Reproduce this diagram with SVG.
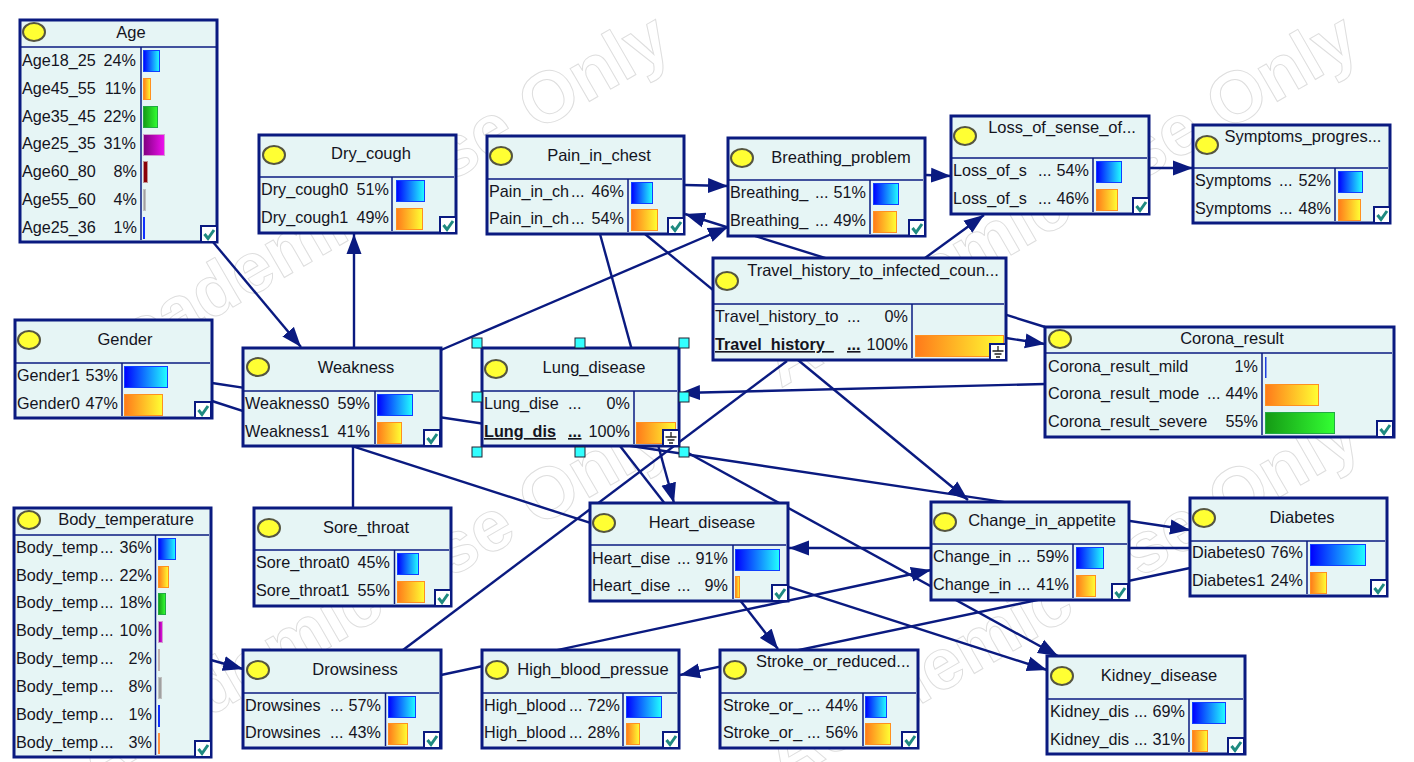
<svg xmlns="http://www.w3.org/2000/svg" xmlns:xlink="http://www.w3.org/1999/xlink" width="1414" height="762" viewBox="0 0 1414 762">
<style>
text{font-family:"Liberation Sans",Arial,sans-serif;font-size:16.2px;fill:#14141e}
.t{text-anchor:middle;font-size:16.5px}.p{text-anchor:end}
.u{font-weight:bold;text-decoration:underline}
.wm{font-size:72px;font-weight:bold;fill:none;stroke:#dedede;stroke-width:1}
.box{fill:#e6f5f5;stroke:#0a1a80;stroke-width:3}
.in{stroke:#0a1a80;stroke-width:1.5}
.dot{fill:#ffff33;stroke:#555540;stroke-width:2}
.c{fill:none;stroke:#0a1a80;stroke-width:2.4}
.a{marker-end:url(#arr)}
.h{fill:#33ffff;stroke:#223;stroke-width:1}
.b{fill:url(#gb);stroke:#1040ff}.o{fill:url(#go);stroke:#ff9020}.g{fill:url(#gg);stroke:#22aa44}.v{fill:url(#gv);stroke:#d0a0d0}.m{fill:#8a0008;stroke:#c09090}.k{fill:#a0a0a0;stroke:#c0c0c0}.d{fill:#401818;stroke:#c0b0b0}
</style>
<defs>
<linearGradient id="gb"><stop offset="0" stop-color="#0000ff"/><stop offset="1" stop-color="#22ffff"/></linearGradient>
<linearGradient id="go"><stop offset="0" stop-color="#ff7a1a"/><stop offset="1" stop-color="#ffff33"/></linearGradient>
<linearGradient id="gg"><stop offset="0" stop-color="#159a15"/><stop offset="1" stop-color="#33ff33"/></linearGradient>
<linearGradient id="gv"><stop offset="0" stop-color="#800080"/><stop offset="1" stop-color="#f010f0"/></linearGradient>
<marker id="arr" markerUnits="userSpaceOnUse" markerWidth="21" markerHeight="16" refX="20" refY="8" orient="auto"><path d="M0,0.5 L20,8 L0,15.5 Z" fill="#0a1a80"/></marker>
<g id="chk"><rect x="0" y="0" width="16" height="16" fill="#fff" stroke="#0a1a80" stroke-width="2"/><path d="M3.5,8 L7,12.5 L13,4" fill="none" stroke="#1f8a80" stroke-width="3"/></g>
<g id="gnd"><rect x="0" y="0" width="16" height="16" fill="#fff" stroke="#0a1a80" stroke-width="2"/><path d="M8,2 V7 M2.5,7 H13.5 M4.5,10 H11.5 M6,13 H10" fill="none" stroke="#222" stroke-width="1.3"/></g>
</defs>
<rect x="0" y="0" width="1414" height="762" fill="#fff"/>
<g id="watermark">
<text class="wm p" transform="translate(675,52) rotate(-30)">Academic Use Only</text>
<text class="wm p" transform="translate(1363,52) rotate(-30)">Academic Use Only</text>
<text class="wm p" transform="translate(675,448) rotate(-30)">Academic Use Only</text>
<text class="wm p" transform="translate(1365,448) rotate(-30)">Academic Use Only</text>
</g>
<g id="connectors">
<path class="c a" d="M213,242 L301,347"/>
<path class="c a" d="M354,348 L354,234"/>
<path class="c a" d="M441,350 L728,227"/>
<path class="c a" d="M685,185 L728,186"/>
<path class="c a" d="M926,175 L951,176"/>
<path class="c a" d="M1149,168 L1193,168"/>
<path class="c a" d="M925,258 L984,215"/>
<path class="c a" d="M1045,327 L685,214"/>
<path class="c a" d="M645,234 L968,500"/>
<path class="c a" d="M1006,338 L1045,344"/>
<path class="c a" d="M1045,384 L680,393"/>
<path class="c a" d="M600,234 L674,503"/>
<path class="c a" d="M620,446 L778,649"/>
<path class="c a" d="M212,383 L1190,530"/>
<path class="c a" d="M212,401 L1047,670"/>
<path class="c" d="M353,446 L353,508"/>
<path class="c a" d="M1190,548 L789,548"/>
<path class="c a" d="M1190,568 L680,675"/>
<path class="c a" d="M441,675 L931,570"/>
<path class="c" d="M403,650 L787,361"/>
<path class="c a" d="M679,448 L1058,656"/>
<path class="c a" d="M211,660 L243,669"/>
</g>
<g id="age"><rect class="box" x="20" y="20" width="197" height="222"/><line class="in" x1="20" y1="47" x2="217" y2="47"/><line class="in" x1="141" y1="47" x2="141" y2="240"/><ellipse class="dot" cx="34" cy="32" rx="11" ry="9"/><text class="t" x="131" y="38">Age</text>
<text x="22" y="66">Age18_25</text><text class="p" x="136" y="66">24%</text><rect class="b" x="143.5" y="50.5" width="16" height="21"/>
<text x="22" y="94">Age45_55</text><text class="p" x="136" y="94">11%</text><rect class="o" x="143.5" y="78.5" width="7" height="21"/>
<text x="22" y="122">Age35_45</text><text class="p" x="136" y="122">22%</text><rect class="g" x="143.5" y="106.5" width="14" height="21"/>
<text x="22" y="149">Age25_35</text><text class="p" x="136" y="149">31%</text><rect class="v" x="143.5" y="134.5" width="21" height="21"/>
<text x="22" y="177">Age60_80</text><text class="p" x="137" y="177">8%</text><rect class="m" x="143.5" y="161.5" width="4" height="21"/>
<text x="22" y="205">Age55_60</text><text class="p" x="137" y="205">4%</text><rect class="k" x="143.5" y="189.5" width="2" height="21"/>
<text x="22" y="233">Age25_36</text><text class="p" x="137" y="233">1%</text><rect x="143" y="217" width="2" height="22" fill="#1030ff"/>
<use href="#chk" x="201" y="226"/></g>
<g id="dry_cough"><rect class="box" x="259" y="135" width="197" height="98"/><line class="in" x1="259" y1="177" x2="454" y2="177"/><line class="in" x1="392" y1="177" x2="392" y2="231"/><ellipse class="dot" cx="274" cy="155" rx="11" ry="9"/><text class="t" x="371" y="159">Dry_cough</text>
<text x="261" y="195">Dry_cough0</text><text class="p" x="389" y="195">51%</text><rect class="b" x="396.5" y="180.5" width="28" height="21"/>
<text x="261" y="223">Dry_cough1</text><text class="p" x="389" y="223">49%</text><rect class="o" x="396.5" y="208.5" width="26" height="21"/>
<use href="#chk" x="440" y="217"/></g>
<g id="pain_in_chest"><rect class="box" x="487" y="136" width="197" height="98"/><line class="in" x1="487" y1="179" x2="682" y2="179"/><line class="in" x1="628" y1="179" x2="628" y2="232"/><ellipse class="dot" cx="501" cy="156" rx="11" ry="9"/><text class="t" x="599" y="161">Pain_in_chest</text>
<text x="489" y="197">Pain_in_ch</text><text x="571" y="197">...</text><text class="p" x="624" y="197">46%</text><rect class="b" x="631.5" y="182.5" width="21" height="21"/>
<text x="489" y="224">Pain_in_ch</text><text x="571" y="224">...</text><text class="p" x="624" y="224">54%</text><rect class="o" x="631.5" y="209.5" width="26" height="21"/>
<use href="#chk" x="668" y="218"/></g>
<g id="breathing_problem"><rect class="box" x="728" y="138" width="197" height="98"/><line class="in" x1="728" y1="180" x2="923" y2="180"/><line class="in" x1="870" y1="180" x2="870" y2="234"/><ellipse class="dot" cx="742" cy="158" rx="11" ry="9"/><text class="t" x="841" y="163">Breathing_problem</text>
<text x="730" y="198">Breathing_</text><text x="815" y="198">...</text><text class="p" x="866" y="198">51%</text><rect class="b" x="873.5" y="183.5" width="25" height="21"/>
<text x="730" y="226">Breathing_</text><text x="815" y="226">...</text><text class="p" x="866" y="226">49%</text><rect class="o" x="873.5" y="211.5" width="23" height="21"/>
<use href="#chk" x="909" y="220"/></g>
<g id="loss_of_sense"><rect class="box" x="951" y="116" width="198" height="98"/><line class="in" x1="951" y1="158" x2="1147" y2="158"/><line class="in" x1="1093" y1="158" x2="1093" y2="212"/><ellipse class="dot" cx="965" cy="136" rx="11" ry="9"/><text class="t" x="1062" y="133">Loss_of_sense_of...</text>
<text x="953" y="176">Loss_of_s</text><text x="1038" y="176">...</text><text class="p" x="1089" y="176">54%</text><rect class="b" x="1096.5" y="161.5" width="25" height="21"/>
<text x="953" y="204">Loss_of_s</text><text x="1038" y="204">...</text><text class="p" x="1089" y="204">46%</text><rect class="o" x="1096.5" y="189.5" width="21" height="21"/>
<use href="#chk" x="1133" y="198"/></g>
<g id="symptoms_progress"><rect class="box" x="1193" y="125" width="197" height="98"/><line class="in" x1="1193" y1="168" x2="1388" y2="168"/><line class="in" x1="1335" y1="168" x2="1335" y2="221"/><ellipse class="dot" cx="1207" cy="145" rx="11" ry="9"/><text class="t" x="1303" y="142">Symptoms_progres...</text>
<text x="1195" y="186">Symptoms</text><text x="1279" y="186">...</text><text class="p" x="1331" y="186">52%</text><rect class="b" x="1338.5" y="171.5" width="24" height="21"/>
<text x="1195" y="214">Symptoms</text><text x="1279" y="214">...</text><text class="p" x="1331" y="214">48%</text><rect class="o" x="1338.5" y="199.5" width="22" height="21"/>
<use href="#chk" x="1374" y="207"/></g>
<g id="travel_history"><rect class="box" x="713" y="258" width="293" height="102"/><line class="in" x1="713" y1="304" x2="1004" y2="304"/><line class="in" x1="912" y1="304" x2="912" y2="358"/><ellipse class="dot" cx="727" cy="281" rx="11" ry="9"/><text class="t" x="873" y="276">Travel_history_to_infected_coun...</text>
<text x="715" y="322">Travel_history_to</text><text x="847" y="322">...</text><text class="p" x="908" y="322">0%</text>
<text class="u" x="715" y="350">Travel_history_</text><text class="u" x="847" y="350">...</text><text class="p" x="908" y="350">100%</text><rect class="o" x="915.5" y="335.5" width="88" height="21"/>
<use href="#gnd" x="990" y="344"/></g>
<g id="gender"><rect class="box" x="15" y="320" width="197" height="98"/><line class="in" x1="15" y1="363" x2="210" y2="363"/><line class="in" x1="122" y1="363" x2="122" y2="416"/><ellipse class="dot" cx="29" cy="340" rx="11" ry="9"/><text class="t" x="125" y="345">Gender</text>
<text x="17" y="381">Gender1</text><text class="p" x="118" y="381">53%</text><rect class="b" x="124.5" y="366.5" width="43" height="21"/>
<text x="17" y="409">Gender0</text><text class="p" x="118" y="409">47%</text><rect class="o" x="124.5" y="394.5" width="38" height="21"/>
<use href="#chk" x="195" y="402"/></g>
<g id="weakness"><rect class="box" x="243" y="348" width="198" height="98"/><line class="in" x1="243" y1="391" x2="439" y2="391"/><line class="in" x1="375" y1="391" x2="375" y2="444"/><ellipse class="dot" cx="258" cy="367" rx="11" ry="9"/><text class="t" x="356" y="373">Weakness</text>
<text x="245" y="409">Weakness0</text><text class="p" x="370" y="409">59%</text><rect class="b" x="377.5" y="394.5" width="35" height="21"/>
<text x="245" y="437">Weakness1</text><text class="p" x="370" y="437">41%</text><rect class="o" x="377.5" y="422.5" width="24" height="21"/>
<use href="#chk" x="424" y="430"/></g>
<g id="lung_disease"><rect class="box" x="482" y="348" width="197" height="98"/><line class="in" x1="482" y1="391" x2="677" y2="391"/><line class="in" x1="634" y1="391" x2="634" y2="444"/><ellipse class="dot" cx="496" cy="369" rx="11" ry="9"/><text class="t" x="594" y="373">Lung_disease</text>
<text x="484" y="409">Lung_dise</text><text x="568" y="409">...</text><text class="p" x="630" y="409">0%</text>
<text class="u" x="484" y="437">Lung_dis</text><text class="u" x="568" y="437">...</text><text class="p" x="630" y="437">100%</text><rect class="o" x="636.5" y="422.5" width="39" height="21"/>
<use href="#gnd" x="663" y="430"/>
<rect class="h" x="472" y="338" width="10" height="10"/><rect class="h" x="575" y="338" width="10" height="10"/><rect class="h" x="679" y="338" width="10" height="10"/><rect class="h" x="472" y="392" width="10" height="10"/><rect class="h" x="679" y="392" width="10" height="10"/><rect class="h" x="472" y="447" width="10" height="10"/><rect class="h" x="575" y="447" width="10" height="10"/><rect class="h" x="679" y="447" width="10" height="10"/></g>
<g id="corona_result"><rect class="box" x="1045" y="327" width="349" height="110"/><line class="in" x1="1045" y1="353" x2="1392" y2="353"/><line class="in" x1="1262" y1="353" x2="1262" y2="435"/><ellipse class="dot" cx="1060" cy="339" rx="11" ry="9"/><text class="t" x="1232" y="344">Corona_result</text>
<text x="1048" y="372">Corona_result_mild</text><text class="p" x="1258" y="372">1%</text><rect x="1265" y="357" width="1.500" height="21" fill="#2040e0"/>
<text x="1048" y="399">Corona_result_mode</text><text x="1207" y="399">...</text><text class="p" x="1258" y="399">44%</text><rect class="o" x="1265.500" y="384.500" width="53" height="21"/>
<text x="1048" y="427">Corona_result_severe</text><text class="p" x="1258" y="427">55%</text><rect class="g" x="1265.500" y="412.500" width="69" height="21"/>
<use href="#chk" x="1377" y="421"/></g>
<g id="body_temperature"><rect class="box" x="14" y="508" width="197" height="249"/><line class="in" x1="14" y1="535" x2="209" y2="535"/><line class="in" x1="155.500" y1="535" x2="155.500" y2="755"/><ellipse class="dot" cx="29" cy="520" rx="11" ry="9"/><text class="t" x="126" y="525">Body_temperature</text>
<text x="16" y="553">Body_temp</text><text x="100" y="553">...</text><text class="p" x="152" y="553">36%</text><rect class="b" x="158.5" y="538.5" width="17" height="21"/>
<text x="16" y="581">Body_temp</text><text x="100" y="581">...</text><text class="p" x="152" y="581">22%</text><rect class="o" x="158.5" y="566.5" width="10" height="21"/>
<text x="16" y="608">Body_temp</text><text x="100" y="608">...</text><text class="p" x="152" y="608">18%</text><rect class="g" x="158.5" y="593.5" width="7" height="21"/>
<text x="16" y="636">Body_temp</text><text x="100" y="636">...</text><text class="p" x="152" y="636">10%</text><rect class="v" x="158.5" y="621.5" width="4" height="21"/>
<text x="16" y="664">Body_temp</text><text x="100" y="664">...</text><text class="p" x="152" y="664">2%</text><rect class="d" x="158.5" y="649.5" width="1" height="21"/>
<text x="16" y="692">Body_temp</text><text x="100" y="692">...</text><text class="p" x="152" y="692">8%</text><rect class="k" x="158.5" y="677.5" width="3" height="21"/>
<text x="16" y="720">Body_temp</text><text x="100" y="720">...</text><text class="p" x="152" y="720">1%</text><rect x="158" y="705" width="2" height="22" fill="#1030ff"/>
<text x="16" y="748">Body_temp</text><text x="100" y="748">...</text><text class="p" x="152" y="748">3%</text><rect x="158" y="733" width="2" height="21" fill="#ff9040"/>
<use href="#chk" x="195" y="741"/></g>
<g id="sore_throat"><rect class="box" x="254" y="508" width="197" height="98"/><line class="in" x1="254" y1="550" x2="449" y2="550"/><line class="in" x1="394.500" y1="550" x2="394.500" y2="604"/><ellipse class="dot" cx="269" cy="528" rx="11" ry="9"/><text class="t" x="366" y="533">Sore_throat</text>
<text x="256" y="568">Sore_throat0</text><text class="p" x="390" y="568">45%</text><rect class="b" x="397.5" y="553.5" width="21" height="21"/>
<text x="256" y="596">Sore_throat1</text><text class="p" x="390" y="596">55%</text><rect class="o" x="397.5" y="581.5" width="27" height="21"/>
<use href="#chk" x="435" y="590"/></g>
<g id="drowsiness"><rect class="box" x="243" y="650" width="198" height="98"/><line class="in" x1="243" y1="693" x2="439" y2="693"/><line class="in" x1="385.500" y1="693" x2="385.500" y2="746"/><ellipse class="dot" cx="258" cy="670" rx="11" ry="9"/><text class="t" x="355" y="675">Drowsiness</text>
<text x="245" y="711">Drowsines</text><text x="330" y="711">...</text><text class="p" x="381" y="711">57%</text><rect class="b" x="388.5" y="696.5" width="27" height="21"/>
<text x="245" y="738">Drowsines</text><text x="330" y="738">...</text><text class="p" x="381" y="738">43%</text><rect class="o" x="388.5" y="723.5" width="19" height="21"/>
<use href="#chk" x="424" y="732"/></g>
<g id="high_blood_pressue"><rect class="box" x="482" y="650" width="197" height="98"/><line class="in" x1="482" y1="693" x2="677" y2="693"/><line class="in" x1="623" y1="693" x2="623" y2="746"/><ellipse class="dot" cx="497" cy="670" rx="11" ry="9"/><text class="t" x="593" y="675">High_blood_pressue</text>
<text x="484" y="711">High_blood</text><text x="569" y="711">...</text><text class="p" x="620" y="711">72%</text><rect class="b" x="626.5" y="696.5" width="35" height="21"/>
<text x="484" y="738">High_blood</text><text x="569" y="738">...</text><text class="p" x="620" y="738">28%</text><rect class="o" x="626.5" y="723.5" width="13" height="21"/>
<use href="#chk" x="663" y="732"/></g>
<g id="stroke_or_reduced"><rect class="box" x="720" y="650" width="198" height="98"/><line class="in" x1="720" y1="693" x2="916" y2="693"/><line class="in" x1="863" y1="693" x2="863" y2="746"/><ellipse class="dot" cx="735" cy="670" rx="11" ry="9"/><text class="t" x="833" y="667">Stroke_or_reduced...</text>
<text x="723" y="711">Stroke_or_</text><text x="807" y="711">...</text><text class="p" x="858" y="711">44%</text><rect class="b" x="865.5" y="696.5" width="21" height="21"/>
<text x="723" y="738">Stroke_or_</text><text x="807" y="738">...</text><text class="p" x="858" y="738">56%</text><rect class="o" x="865.5" y="723.5" width="25" height="21"/>
<use href="#chk" x="902" y="732"/></g>
<g id="heart_disease"><rect class="box" x="590" y="503" width="198" height="98"/><line class="in" x1="590" y1="545" x2="786" y2="545"/><line class="in" x1="733" y1="545" x2="733" y2="599"/><ellipse class="dot" cx="604" cy="523" rx="11" ry="9"/><text class="t" x="702" y="528">Heart_disease</text>
<text x="592" y="564">Heart_dise</text><text x="677" y="564">...</text><text class="p" x="728" y="564">91%</text><rect class="b" x="735.5" y="549.5" width="44" height="21"/>
<text x="592" y="591">Heart_dise</text><text x="677" y="591">...</text><text class="p" x="728" y="591">9%</text><rect class="o" x="735.5" y="576.5" width="4" height="21"/>
<use href="#chk" x="772" y="585"/></g>
<g id="change_in_appetite"><rect class="box" x="931" y="502" width="198" height="98"/><line class="in" x1="931" y1="544" x2="1127" y2="544"/><line class="in" x1="1073" y1="544" x2="1073" y2="598"/><ellipse class="dot" cx="945" cy="522" rx="11" ry="9"/><text class="t" x="1042" y="526">Change_in_appetite</text>
<text x="933" y="562">Change_in</text><text x="1017" y="562">...</text><text class="p" x="1069" y="562">59%</text><rect class="b" x="1076.5" y="547.5" width="27" height="21"/>
<text x="933" y="590">Change_in</text><text x="1017" y="590">...</text><text class="p" x="1069" y="590">41%</text><rect class="o" x="1076.5" y="575.5" width="19" height="21"/>
<use href="#chk" x="1112" y="584"/></g>
<g id="diabetes"><rect class="box" x="1190" y="498" width="197" height="98"/><line class="in" x1="1190" y1="541" x2="1385" y2="541"/><line class="in" x1="1307" y1="541" x2="1307" y2="594"/><ellipse class="dot" cx="1204" cy="518" rx="11" ry="9"/><text class="t" x="1302" y="523">Diabetes</text>
<text x="1192" y="558">Diabetes0</text><text class="p" x="1303" y="558">76%</text><rect class="b" x="1310.5" y="544.5" width="55" height="21"/>
<text x="1192" y="586">Diabetes1</text><text class="p" x="1303" y="586">24%</text><rect class="o" x="1310.5" y="572.5" width="16" height="21"/>
<use href="#chk" x="1371" y="580"/></g>
<g id="kidney_disease"><rect class="box" x="1047" y="656" width="198" height="98"/><line class="in" x1="1047" y1="699" x2="1243" y2="699"/><line class="in" x1="1189" y1="699" x2="1189" y2="752"/><ellipse class="dot" cx="1062" cy="676" rx="11" ry="9"/><text class="t" x="1159" y="681">Kidney_disease</text>
<text x="1050" y="717">Kidney_dis</text><text x="1134" y="717">...</text><text class="p" x="1185" y="717">69%</text><rect class="b" x="1192.5" y="702.5" width="33" height="21"/>
<text x="1050" y="745">Kidney_dis</text><text x="1134" y="745">...</text><text class="p" x="1185" y="745">31%</text><rect class="o" x="1192.5" y="730.5" width="15" height="21"/>
<use href="#chk" x="1228" y="738"/></g>
</svg>
